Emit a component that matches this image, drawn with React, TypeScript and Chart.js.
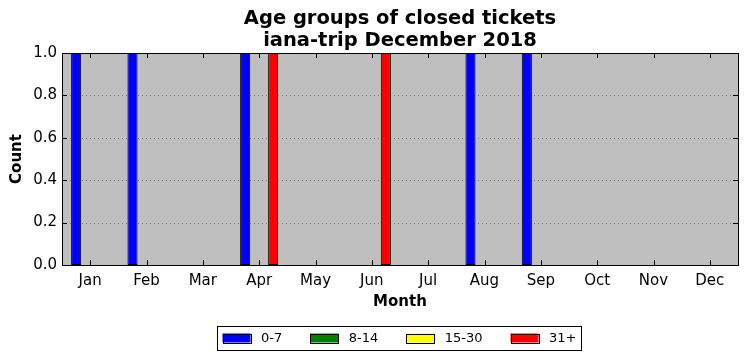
import React, { useEffect, useRef } from "react";
import { Chart, registerables } from "chart.js";

Chart.register(...registerables);

const months = ["Jan", "Feb", "Mar", "Apr", "May", "Jun", "Jul", "Aug", "Sep", "Oct", "Nov", "Dec"];
const groupLabels = ["0-7", "8-14", "15-30", "31+"];
const groupColors = ["#0000ff", "#008000", "#ffff00", "#ff0000"];
const age0to7 = [1, 1, 0, 1, 0, 0, 0, 1, 1, 0, 0, 0];
const age8to14 = [0, 0, 0, 0, 0, 0, 0, 0, 0, 0, 0, 0];
const age15to30 = [0, 0, 0, 0, 0, 0, 0, 0, 0, 0, 0, 0];
const age31plus = [0, 0, 0, 1, 0, 1, 0, 0, 0, 0, 0, 0];
const yTicks = [0, 0.2, 0.4, 0.6, 0.8, 1.0];
const titleLines = ["Age groups of closed tickets", "iana-trip December 2018"];
const xTitle = "Month";
const yTitle = "Count";

const FONT = "'DejaVu Sans', sans-serif";

const mplPlugin = {
  id: "mpl",
  beforeDatasetsDraw(chart: any) {
    const { ctx, chartArea: a, scales } = chart;
    ctx.save();
    ctx.fillStyle = "#bfbfbf";
    ctx.fillRect(a.left, a.top, a.right - a.left, a.bottom - a.top);
    ctx.strokeStyle = "#7a7a7a";
    ctx.lineWidth = 1;
    ctx.setLineDash([1, 3]);
    yTicks.forEach((v) => {
      if (v === 0 || v === 1) return;
      const y = Math.round(scales.y.getPixelForValue(v)) + 0.5;
      ctx.beginPath();
      ctx.moveTo(a.left, y);
      ctx.lineTo(a.right, y);
      ctx.stroke();
    });
    ctx.restore();
  },
  afterDatasetsDraw(chart: any) {
    const { ctx, chartArea: a, scales } = chart;
    ctx.save();
    ctx.strokeStyle = "#000";
    ctx.lineWidth = 1;
    ctx.setLineDash([]);
    const tl = 5;
    months.forEach((_, i) => {
      const x = Math.round(scales.x.getPixelForValue(i)) + 0.5;
      ctx.beginPath();
      ctx.moveTo(x, a.bottom);
      ctx.lineTo(x, a.bottom - tl);
      ctx.moveTo(x, a.top);
      ctx.lineTo(x, a.top + tl);
      ctx.stroke();
    });
    yTicks.forEach((v) => {
      const y = Math.round(scales.y.getPixelForValue(v)) + 0.5;
      ctx.beginPath();
      ctx.moveTo(a.left, y);
      ctx.lineTo(a.left + tl, y);
      ctx.moveTo(a.right, y);
      ctx.lineTo(a.right - tl, y);
      ctx.stroke();
    });
    ctx.strokeRect(Math.round(a.left) + 0.5, Math.round(a.top) + 0.5, Math.round(a.right - a.left), Math.round(a.bottom - a.top));
    ctx.restore();
  },
  afterDraw(chart: any) {
    const { ctx, chartArea: a } = chart;
    const cx = (a.left + a.right) / 2;
    ctx.save();
    ctx.fillStyle = "#000";
    ctx.textAlign = "center";
    ctx.textBaseline = "middle";
    ctx.font = `bold 19.5px ${FONT}`;
    ctx.fillText(titleLines[0], cx, 19);
    ctx.fillText(titleLines[1], cx, 41);
    ctx.font = `bold 15px ${FONT}`;
    ctx.fillText(xTitle, cx, 302);
    ctx.save();
    ctx.translate(17, (a.top + a.bottom) / 2);
    ctx.rotate(-Math.PI / 2);
    ctx.fillText(yTitle, 0, 0);
    ctx.restore();

    // legend
    ctx.font = `13px ${FONT}`;
    const sw = 28;
    const pad = 10.5;
    const colGap = 28;
    const widths = groupLabels.map((l) => ctx.measureText(l).width);
    let total = 0;
    widths.forEach((w, i) => {
      total += sw + pad + w + (i < widths.length - 1 ? colGap : 0);
    });
    const boxL = 217.5;
    const boxR = 581.5;
    const boxT = 326.5;
    const boxB = 350.5;
    let x = (boxL + boxR) / 2 - total / 2;
    const cy = 338;
    ctx.fillStyle = "#fff";
    ctx.fillRect(boxL, boxT, boxR - boxL, boxB - boxT);
    ctx.strokeStyle = "#000";
    ctx.lineWidth = 1;
    ctx.strokeRect(boxL, boxT, boxR - boxL, boxB - boxT);
    ctx.textAlign = "left";
    groupLabels.forEach((l, i) => {
      ctx.fillStyle = groupColors[i];
      ctx.fillRect(x, cy - 4.5, sw, 9);
      ctx.strokeStyle = "#000";
      ctx.strokeRect(Math.round(x) + 0.5, Math.round(cy - 4.5) + 0.5, sw, 9);
      ctx.fillStyle = "#000";
      ctx.fillText(l, x + sw + pad, cy + 0.5);
      x += sw + pad + widths[i] + colGap;
    });
    ctx.restore();
  },
};

export default function App() {
  const ref = useRef<HTMLCanvasElement | null>(null);
  useEffect(() => {
    if (!ref.current) return;
    Chart.defaults.font.family = FONT;
    const seriesList = [age0to7, age8to14, age15to30, age31plus];
    const chart = new Chart(ref.current, {
      type: "bar",
      data: {
        labels: months,
        datasets: seriesList.map((d, i) => ({
          label: groupLabels[i],
          data: d,
          backgroundColor: groupColors[i],
          borderColor: "#000",
          borderWidth: 1,
          borderSkipped: false,
          categoryPercentage: 0.663,
          barPercentage: 1.08,
        })),
      },
      options: {
        responsive: false,
        animation: false,
        layout: { padding: { left: 0, top: 53, right: 9, bottom: 0 } },
        plugins: {
          legend: { display: false },
          title: { display: false },
          tooltip: { enabled: false },
        },
        scales: {
          x: {
            type: "category",
            offset: true,
            grid: { display: false, drawTicks: false },
            border: { display: false },
            ticks: { color: "#000", font: { size: 15, family: FONT }, padding: 7, maxRotation: 0, autoSkip: false },
            afterFit: (s: any) => {
              s.height = 96;
            },
          },
          y: {
            min: 0,
            max: 1,
            grid: { display: false, drawTicks: false },
            border: { display: false },
            ticks: {
              stepSize: 0.2,
              color: "#000",
              font: { size: 15, family: FONT },
              padding: 5,
              callback: (v: any) => Number(v).toFixed(1),
            },
            afterFit: (s: any) => {
              s.width = 62;
            },
          },
        },
      },
      plugins: [mplPlugin],
    });
    return () => chart.destroy();
  }, []);
  return (
    <canvas
      ref={ref}
      width={747}
      height={361}
      style={{ position: "absolute", left: 0, top: 0, width: 747, height: 361, background: "#fff" }}
    />
  );
}
